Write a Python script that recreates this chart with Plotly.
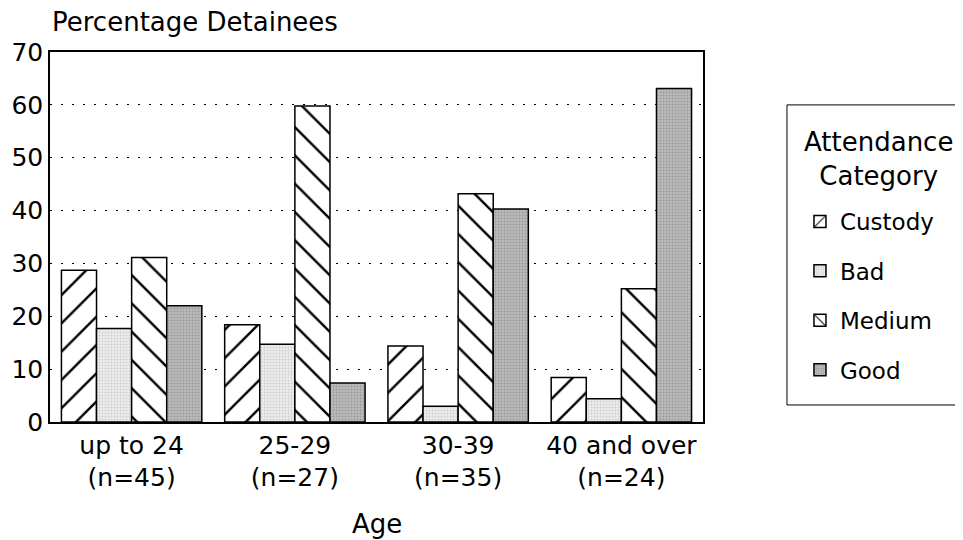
import plotly.graph_objects as go

AGE_GROUPS = ["up to 24<br>(n=45)", "25-29<br>(n=27)", "30-39<br>(n=35)", "40 and over<br>(n=24)"]
CATEGORIES = ["Custody", "Bad", "Medium", "Good"]

custody = [28.7, 18.4, 14.4, 8.4]
bad = [17.7, 14.7, 3.0, 4.4]
medium = [31.1, 59.8, 43.2, 25.2]
good = [22.0, 7.4, 40.3, 63.1]

Y_TICKS = [0, 10, 20, 30, 40, 50, 60, 70]

FONT = "DejaVu Sans, Liberation Sans, sans-serif"

# look of each attendance category (hatching / stipple)
patterns = {
    "Custody": dict(shape="/", fgcolor="black", fgopacity=1, bgcolor="white", size=20, solidity=0.12),
    "Bad": dict(shape=".", fgcolor="#b4b4b4", bgcolor="#ececec", size=3, solidity=0.35),
    "Medium": dict(shape="\\", fgcolor="black", fgopacity=1, bgcolor="white", size=20, solidity=0.12),
    "Good": dict(shape=".", fgcolor="#7a7a7a", bgcolor="#bdbdbd", size=3, solidity=0.4),
}
values = {"Custody": custody, "Bad": bad, "Medium": medium, "Good": good}

fig = go.Figure()
for cat in CATEGORIES:
    fig.add_trace(go.Bar(
        x=AGE_GROUPS,
        y=values[cat],
        name=cat,
        legendgroup=cat,
        marker=dict(color="white", pattern=patterns[cat], line=dict(color="black", width=1.5)),
    ))

# page body has an 8px margin, so the figure is 8px smaller than the window
fig.update_layout(
    barmode="group",
    bargap=0.14,
    bargroupgap=0,
    width=955,
    height=532,
    margin=dict(l=42, r=260, t=44, b=118),
    plot_bgcolor="white",
    paper_bgcolor="white",
    font=dict(family=FONT, size=25, color="black"),
    showlegend=True,
    legend=dict(
        x=1.1485, y=0.600, xanchor="left", yanchor="top",
        borderwidth=0, bgcolor="rgba(0,0,0,0)",
        font=dict(size=23),
        tracegroupgap=16.5,
        itemclick=False,
    ),
    xaxis=dict(
        showline=True, linecolor="black", linewidth=1.5, mirror=True,
        tickfont=dict(size=25), ticks="", automargin=False,
    ),
    yaxis=dict(
        range=[0, 70], tickvals=Y_TICKS, showline=True, linecolor="black",
        linewidth=1.5, mirror=True, zeroline=False,
        showgrid=True, gridcolor="black", gridwidth=1, griddash="2px,9px",
        tickfont=dict(size=25), ticks="", automargin=False,
    ),
    shapes=[
        # legend frame
        dict(type="rect", xref="paper", yref="paper", x0=1.1286, x1=1.5, y0=0.046, y1=0.857,
             line=dict(color="black", width=1), fillcolor="rgba(0,0,0,0)"),
    ],
    annotations=[
        dict(text="Percentage Detainees", x=0, y=1.081, xref="paper", yref="paper",
             xanchor="left", yanchor="middle", showarrow=False, font=dict(size=26)),
        dict(text="Age", x=0.5, y=-0.275, xref="paper", yref="paper",
             xanchor="center", yanchor="middle", showarrow=False, font=dict(size=26)),
        dict(text="Attendance<br>Category", x=1.2695, y=0.712, xref="paper", yref="paper",
             xanchor="center", yanchor="middle", align="center", showarrow=False,
             font=dict(size=26)),
    ],
)

fig.write_html("out.html")
